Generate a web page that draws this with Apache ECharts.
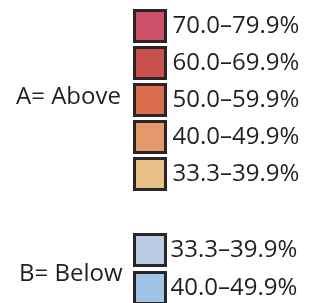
<!DOCTYPE html>
<html lang="en">
<head>
    <meta charset="UTF-8">
    <title>legend</title>
    <script src="https://cdn.jsdelivr.net/npm/echarts@6/dist/echarts.min.js"></script>
    <style>
        html, body { margin: 0; padding: 0; background: #fff; }
    </style>
</head>
<body>
    <div id="charts1" style="width: 313px;height:303px;"></div>
    <script type="text/javascript">
        // legend classes
        var aboveNames = ['70.0–79.9%', '60.0–69.9%', '50.0–59.9%', '40.0–49.9%', '33.3–39.9%'];
        var aboveColors = ['#cc5068', '#c9514b', '#da6e4d', '#e3996b', '#e9c088'];
        var belowNames = ['33.3–39.9%', '40.0–49.9%'];
        var belowColors = ['#b9cce3', '#9fc4e6'];
        var groupLabels = ['A= Above', 'B= Below'];

        var myChart = echarts.init(document.getElementById('charts1'));

        var series = [];
        var aboveData = [];
        var belowData = [];
        for (var i = 0; i < aboveNames.length; i++) {
            series.push({ name: 'A|' + aboveNames[i], type: 'bar', data: [], itemStyle: { color: aboveColors[i] } });
            aboveData.push('A|' + aboveNames[i]);
        }
        for (var j = 0; j < belowNames.length; j++) {
            series.push({ name: 'B|' + belowNames[j], type: 'bar', data: [], itemStyle: { color: belowColors[j] } });
            belowData.push('B|' + belowNames[j]);
        }

        var fontFamily = '"Open Sans", sans-serif';
        var legendBase = {
            orient: 'vertical',
            icon: 'rect',
            itemWidth: 31,
            itemHeight: 31,
            itemGap: 3,
            padding: 0,
            height: 300,
            selectedMode: false,
            itemStyle: { borderColor: '#2a2526', borderWidth: 3 },
            textStyle: { fontFamily: fontFamily, fontSize: 24, color: '#231f20', lineHeight: 29 },
            formatter: function (name) { return name.slice(2); }
        };

        option = {
            animation: false,
            title: [
                { text: groupLabels[0], left: 16, top: 85, padding: 0,
                  textStyle: { fontFamily: fontFamily, fontSize: 24, fontWeight: 'normal', color: '#231f20' } },
                { text: groupLabels[1], left: 19, top: 262, padding: 0,
                  textStyle: { fontFamily: fontFamily, fontSize: 24, fontWeight: 'normal', color: '#231f20' } }
            ],
            legend: [
                Object.assign({}, legendBase, { left: 133, top: 9, data: aboveData,
                    textStyle: Object.assign({}, legendBase.textStyle, { padding: [0, 0, 0, 2] }) }),
                Object.assign({}, legendBase, { left: 133, top: 233, itemGap: 4, data: belowData })
            ],
            grid: { show: false, left: 0, right: 0, top: 0, bottom: 0 },
            xAxis: { type: 'category', show: false, data: [] },
            yAxis: { type: 'value', show: false },
            series: series
        };
        myChart.setOption(option);
    </script>
</body>
</html>
